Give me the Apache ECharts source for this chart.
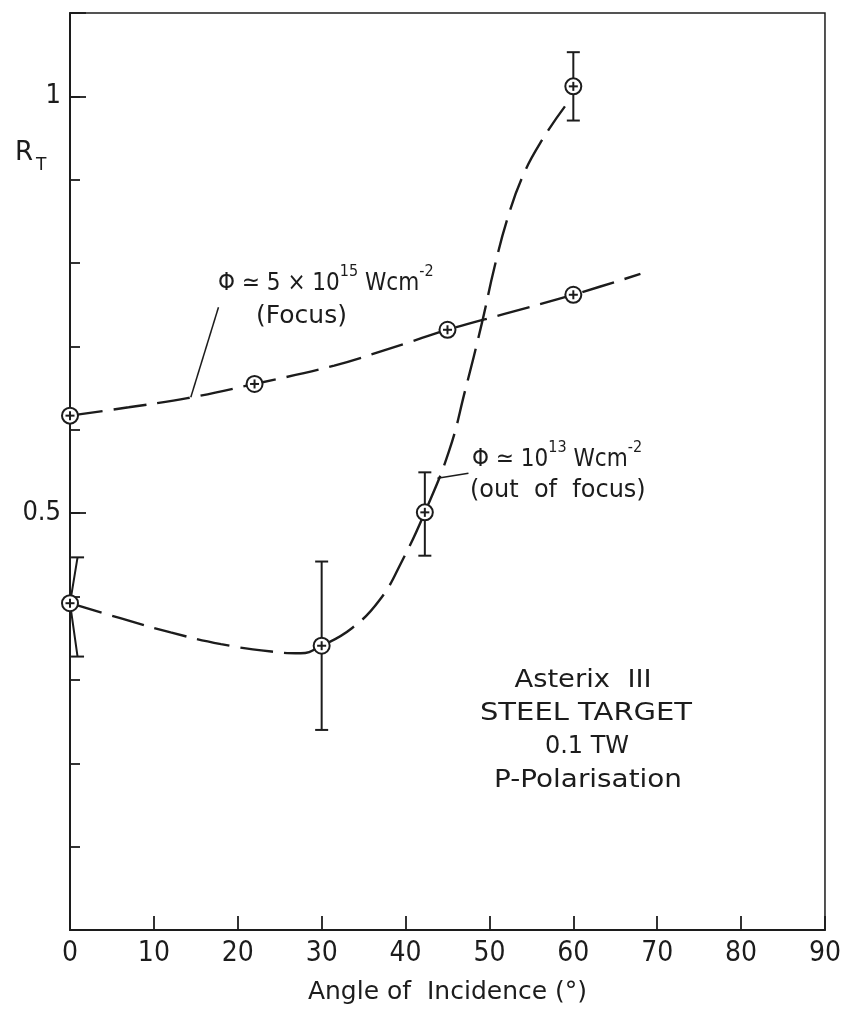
<!DOCTYPE html>
<html><head><meta charset="utf-8">
<script src="https://cdn.jsdelivr.net/npm/echarts@6/dist/echarts.min.js"></script>
<style>html,body{margin:0;padding:0;background:#fff}#c{width:844px;height:1012px}</style>
</head><body><div id="c"></div>
<script>
// ---- data ----
const focusPoints = [[0, 0.617], [22, 0.655], [45, 0.72], [60, 0.762]];
const focusCurve = [[0, 0.617], [7, 0.627], [14, 0.638], [22, 0.655], [31.5, 0.677], [39.8, 0.703], [45, 0.72], [51.8, 0.739], [60, 0.762], [68, 0.787]];
const outPoints = [[0, 0.392], [30, 0.341], [42.3, 0.501], [60, 1.012]];
const outErrLow = [0.328, 0.240, 0.449, 0.971];
const outErrHigh = [0.447, 0.442, 0.549, 1.053];
const outErrCapAngle = [0.9, 30, 42.3, 60];
const outCurve = [[0, 0.392], [6, 0.374], [12, 0.357], [18, 0.343], [24, 0.334], [27.5, 0.332], [30, 0.341], [33.6, 0.362], [37, 0.397], [39.6, 0.443], [42.3, 0.501], [45.2, 0.575], [47.1, 0.647], [49.1, 0.728], [50.6, 0.795], [52.2, 0.855], [54.0, 0.905], [56.3, 0.948], [59, 0.988]];
const yTickLabels = {0.5: '0.5', 1: '1'};

const INK = '#1c1c1c';
const NUM_FONT = "'Liberation Sans Narrow', 'DejaVu Sans Condensed', sans-serif";
const TXT_FONT = "'DejaVu Sans', sans-serif";
const COND_FONT = "'DejaVu Sans Condensed', 'DejaVu Sans', sans-serif";

const chart = echarts.init(document.getElementById('c'));

function markerItem(params, api) {
  const p = api.coord([api.value(0), api.value(1)]);
  const st = {stroke: INK, lineWidth: 2, fill: null};
  return {type: 'group', children: [
    {type: 'circle', shape: {cx: p[0], cy: p[1], r: 8}, style: {stroke: INK, lineWidth: 2, fill: '#fff'}},
    {type: 'line', shape: {x1: p[0] - 4.5, y1: p[1], x2: p[0] + 4.5, y2: p[1]}, style: st},
    {type: 'line', shape: {x1: p[0], y1: p[1] - 4.5, x2: p[0], y2: p[1] + 4.5}, style: st}
  ]};
}

const errData = outPoints.map((p, i) => [outErrCapAngle[i], outErrLow[i], outErrHigh[i], p[0], p[1]]);

const dashStyle = {color: INK, width: 2.4, type: [33, 11]};
const leaderStyle = {color: INK, width: 1.5, type: 'solid'};
const supRich = {
  n: {fontFamily: COND_FONT, fontSize: 24, lineHeight: 32, verticalAlign: 'bottom', fill: INK},
  s: {fontFamily: COND_FONT, fontSize: 16, verticalAlign: 'top', fill: INK}
};

chart.setOption({
  animation: false,
  backgroundColor: '#fff',
  grid: {left: 70, right: 18, top: 13, bottom: 82, show: true, borderColor: INK, borderWidth: 1.5},
  xAxis: {
    type: 'value', min: 0, max: 90, interval: 10,
    axisLine: {lineStyle: {color: INK, width: 2}},
    axisTick: {inside: true, length: 14, lineStyle: {color: INK, width: 1.8}},
    axisLabel: {fontFamily: NUM_FONT, fontSize: 28, color: INK, margin: 10},
    splitLine: {show: false},
    name: 'Angle of  Incidence (°)', nameLocation: 'middle', nameGap: 50,
    nameTextStyle: {fontFamily: TXT_FONT, fontSize: 25, color: INK}
  },
  yAxis: [
    {
      type: 'value', min: 0, max: 1.1, interval: 0.1, position: 'left',
      axisLine: {show: true, lineStyle: {color: INK, width: 2}},
      axisTick: {inside: true, length: 10, lineStyle: {color: INK, width: 1.8}},
      axisLabel: {show: false}, splitLine: {show: false}
    },
    {
      type: 'value', min: 0, max: 1.1, interval: 0.5, position: 'left',
      axisLine: {show: false},
      axisTick: {inside: true, length: 16, lineStyle: {color: INK, width: 1.8}},
      axisLabel: {
        fontFamily: NUM_FONT, fontSize: 27, color: INK, margin: 9,
        formatter: v => { for (const k in yTickLabels) { if (Math.abs(v - Number(k)) < 1e-6) return yTickLabels[k]; } return ''; }
      },
      splitLine: {show: false}
    }
  ],
  series: [
    {
      type: 'line', data: focusCurve, smooth: 0.35, symbol: 'none', lineStyle: dashStyle, z: 2,
      markLine: {symbol: 'none', silent: true, lineStyle: leaderStyle, label: {show: false},
        data: [[{coord: [17.7, 0.747]}, {coord: [14.4, 0.639]}]]}
    },
    {
      type: 'line', data: outCurve, smooth: 0.45, symbol: 'none', lineStyle: dashStyle, z: 2,
      markLine: {symbol: 'none', silent: true, lineStyle: leaderStyle, label: {show: false},
        data: [[{coord: [47.5, 0.548]}, {coord: [43.8, 0.542]}]]}
    },
    {
      type: 'custom', data: errData, clip: false, z: 3,
      encode: {x: [0, 3], y: [1, 2, 4]},
      renderItem: (params, api) => {
        const top = api.coord([api.value(0), api.value(2)]);
        const bot = api.coord([api.value(0), api.value(1)]);
        const pt = api.coord([api.value(3), api.value(4)]);
        const st = {stroke: INK, lineWidth: 2, fill: null};
        const hw = 6.5;
        return {type: 'group', children: [
          {type: 'polyline', shape: {points: [top, pt, bot]}, style: st},
          {type: 'line', shape: {x1: top[0] - hw, y1: top[1], x2: top[0] + hw, y2: top[1]}, style: st},
          {type: 'line', shape: {x1: bot[0] - hw, y1: bot[1], x2: bot[0] + hw, y2: bot[1]}, style: st}
        ]};
      }
    },
    {type: 'custom', data: focusPoints, clip: false, z: 4, renderItem: markerItem},
    {type: 'custom', data: outPoints, clip: false, z: 4, renderItem: markerItem}
  ],
  graphic: [
    {type: 'text', left: 15, top: 140, style: {
      text: '{r|R}{t|T}', fill: INK,
      rich: {r: {fontFamily: TXT_FONT, fontSize: 26, lineHeight: 34, verticalAlign: 'top', fill: INK},
             t: {fontFamily: TXT_FONT, fontSize: 17, verticalAlign: 'bottom', padding: [0, 0, 0, 3], fill: INK}}}},
    {type: 'text', left: 218, top: 264, style: {text: '{n|Φ ≃ 5 × 10}{s|15}{n| Wcm}{s|-2}', fill: INK, rich: supRich}},
    {type: 'text', left: 256, top: 304, style: {text: '(Focus)', fontFamily: TXT_FONT, fontSize: 25, fill: INK}},
    {type: 'text', left: 472, top: 440, style: {text: '{n|Φ ≃ 10}{s|13}{n| Wcm}{s|-2}', fill: INK, rich: supRich}},
    {type: 'text', left: 470, top: 479, style: {text: '(out  of  focus)', fontFamily: TXT_FONT, fontSize: 24, fill: INK}},
    {type: 'text', x: 583, y: 681, scaleX: 1.14, style: {text: 'Asterix  III', fontFamily: TXT_FONT, fontSize: 24, fill: INK, align: 'center', verticalAlign: 'middle'}},
    {type: 'text', x: 586, y: 713, scaleX: 1.16, style: {text: 'STEEL TARGET', fontFamily: TXT_FONT, fontSize: 25, fill: INK, align: 'center', verticalAlign: 'middle'}},
    {type: 'text', x: 587, y: 747, style: {text: '0.1 TW', fontFamily: TXT_FONT, fontSize: 24, fill: INK, align: 'center', verticalAlign: 'middle'}},
    {type: 'text', x: 588, y: 781, scaleX: 1.16, style: {text: 'P-Polarisation', fontFamily: TXT_FONT, fontSize: 24, fill: INK, align: 'center', verticalAlign: 'middle'}}
  ]
});
</script>
</body></html>
